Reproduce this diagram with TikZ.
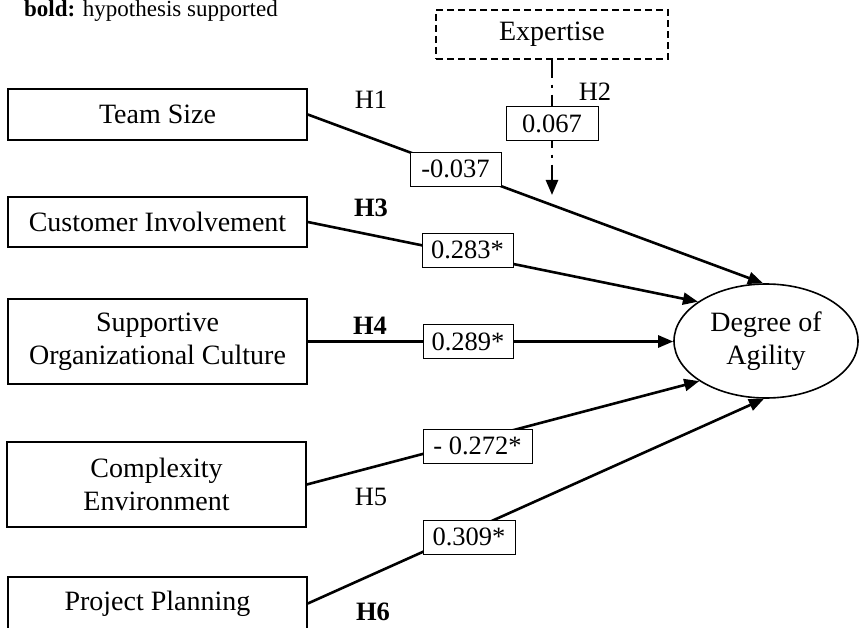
\documentclass[tikz,border=0pt]{standalone}
\usepackage{fontspec}
\setmainfont{Liberation Serif}
\usetikzlibrary{shapes.geometric,arrows.meta}
\begin{document}
\begin{tikzpicture}[x=1pt,y=-1pt,
  inbox/.style={draw, line width=1.6pt, minimum width=299pt, align=center, inner sep=0pt, font=\fontsize{28}{33}\selectfont},
  valbox/.style={draw, line width=0.9pt, fill=white, minimum height=34pt, minimum width=91pt, inner sep=0pt, font=\fontsize{26.5}{30}\selectfont},
  hlab/.style={inner sep=0pt, font=\fontsize{26.5}{30}\selectfont},
  hbold/.style={inner sep=0pt, font=\fontsize{26.5}{30}\selectfont\bfseries},
  conn/.style={line width=2.6pt, -{Triangle[length=15pt,width=12pt]}},
  modline/.style={line width=2.6pt, dash pattern=on 18pt off 7pt on 3pt off 7pt, -{Triangle[length=15pt,width=12pt]}}
]
\useasboundingbox (0,0) rectangle (859,628);

\node[anchor=base west, inner sep=0pt, font=\fontsize{23}{27}\selectfont] (legend) at (24,17) {\textbf{bold:} hypothesis supported};

\node[inbox, minimum height=51pt] (ts) at (157.5,114.5) {Team Size};
\node[inbox, minimum height=50pt] (ci) at (157.5,222) {Customer Involvement};
\node[inbox, minimum height=85pt] (soc) at (157.5,341.5) {Supportive\\Organizational Culture};
\node[inbox, minimum height=85pt] (ce) at (156.5,484.5) {Complexity\\Environment};
\node[inbox, minimum height=53pt] (pp) at (157.5,603.5) {Project Planning};

\node[ellipse, draw, line width=1.6pt, minimum width=184pt, minimum height=114pt, inner sep=0pt, align=center, font=\fontsize{28}{33}\selectfont] (da) at (766,341) {Degree of\\Agility};

\node[draw, line width=1.4pt, dash pattern=on 7pt off 4pt, minimum width=232pt, minimum height=49pt, inner sep=0pt, font=\fontsize{28}{33}\selectfont] (ex) at (552,34.5) {Expertise};
\coordinate (h2end) at (552,195);

\draw[conn] (ts.east) -- (da.93);
\draw[conn] (ci.east) -- (da.150);
\draw[conn] (soc.east) -- (soc.east -| da.west);
\draw[conn] (ce.east) -- (da.211);
\draw[conn] (pp.east) -- (da.268);
\draw[modline] (ex.south) -- (h2end);

\node[valbox] (v1) at (455.5,169) {-0.037};
\node[valbox, minimum width=92pt] (v2) at (552,123.5) {0.067};
\node[valbox] (v3) at (467.5,250) {0.283*};
\node[valbox, minimum width=90pt] (v4) at (468,341.5) {0.289*};
\node[valbox, minimum width=109pt] (v5) at (477.5,446) {- 0.272*};
\node[valbox, minimum width=92pt] (v6) at (469,537) {0.309*};

\node[hlab] (h1) at (371,100) {H1};
\node[hlab] (h2) at (595,92) {H2};
\node[hbold] (h3) at (371,208) {H3};
\node[hbold] (h4) at (370,326) {H4};
\node[hlab] (h5) at (371,497) {H5};
\node[hbold] (h6) at (373,612) {H6};
\end{tikzpicture}
\end{document}
